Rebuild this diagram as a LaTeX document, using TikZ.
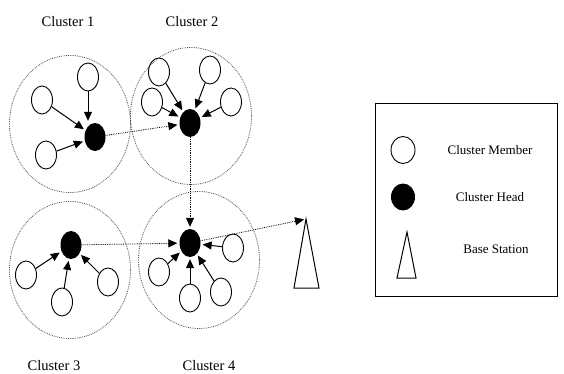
\documentclass[tikz,border=0pt]{standalone}
\usepackage{fontspec}
\setmainfont{Liberation Serif}
\usepackage{tikz}
\usetikzlibrary{positioning,shapes.geometric,arrows.meta}

\begin{document}
\begin{tikzpicture}[x=1pt,y=-1pt,
  cluster/.style={draw=black!70,densely dotted,thick,ellipse,minimum width=121pt,minimum height=137pt,inner sep=0pt},
  member/.style={draw,ellipse,line width=0.9pt,minimum width=21pt,minimum height=28pt,inner sep=0pt},
  head/.style={fill=black,ellipse,minimum width=21pt,minimum height=28pt,inner sep=0pt},
  toch/.style={-{Triangle[length=9pt,width=8pt]},line width=1pt,shorten >=2pt},
  link/.style={-{Triangle[length=9pt,width=8pt]},densely dotted,thick,shorten >=2pt},
  lbl/.style={font=\fontsize{14.5}{16}\selectfont},
  lgd/.style={font=\fontsize{13}{15}\selectfont}]
  \useasboundingbox (0,0) rectangle (564,374);
  % draw clusters
  \node[cluster] (c1) at (70,124) {};
  \node[cluster] (c2) at (191,116) {};
  \node[cluster] (c3) at (70,270) {};
  \node[cluster] (c4) at (199,260) {};
  \node[lbl] (t1) at (68,22) {Cluster 1};
  \node[lbl] (t2) at (192,22) {Cluster 2};
  \node[lbl] (t3) at (54,366) {Cluster 3};
  \node[lbl] (t4) at (209,366) {Cluster 4};
  % draw cluster heads
  \node[head] (h1) at (95,137) {};
  \node[head] (h2) at (190,123) {};
  \node[head] (h3) at (71,245) {};
  \node[head] (h4) at (190,243) {};
  % draw members
  \node[member] (m11) at (88,77) {};
  \node[member] (m12) at (42,100) {};
  \node[member] (m13) at (46,155) {};
  \node[member] (m21) at (159,72) {};
  \node[member] (m22) at (210,70) {};
  \node[member] (m23) at (152,102) {};
  \node[member] (m24) at (231,102) {};
  \node[member] (m31) at (26,275) {};
  \node[member] (m32) at (62,302) {};
  \node[member] (m33) at (108,282) {};
  \node[member] (m41) at (159,272) {};
  \node[member] (m42) at (190,298) {};
  \node[member] (m43) at (221,292) {};
  \node[member] (m44) at (233,248) {};
  % member to head
  \draw[toch] (m11) -- (m11 |- h1.north);
  \draw[toch] (m12) -- (h1);
  \draw[toch] (m13) -- (h1);
  \draw[toch] (m21) -- (h2);
  \draw[toch] (m22) -- (h2);
  \draw[toch] (m23) -- (h2);
  \draw[toch] (m24) -- (h2);
  \draw[toch] (m31) -- (h3);
  \draw[toch] (m32) -- (h3);
  \draw[toch] (m33) -- (h3);
  \draw[toch] (m41) -- (h4);
  \draw[toch] (m42) -- (h4);
  \draw[toch] (m43) -- (h4);
  \draw[toch] (m44) -- (h4);
  % base station
  \coordinate (bs) at (306,219);
  \draw[line width=1pt] (bs) -- (294,288) -- (319,288) -- cycle;
  % head to head
  \draw[link] (h1) -- (h2);
  \draw[link] (h2) -- (h4);
  \draw[link] (h3) -- (h4);
  \draw[link] (h4) -- (bs);
  % legend
  \draw[line width=1pt] (375,104) rectangle (557,296);
  \node[member,minimum width=24pt,minimum height=27pt] (lm) at (403,150) {};
  \node[lgd] (lmt) at (490,150) {Cluster Member};
  \node[head,minimum width=24pt,minimum height=27pt] (lh) at (403,197) {};
  \node[lgd] (lht) at (490,197) {Cluster Head};
  \draw[line width=1pt] (407,232) -- (397,278) -- (416,278) -- cycle;
  \node[lgd] (lbt) at (496,249) {Base Station};
\end{tikzpicture}
\end{document}
